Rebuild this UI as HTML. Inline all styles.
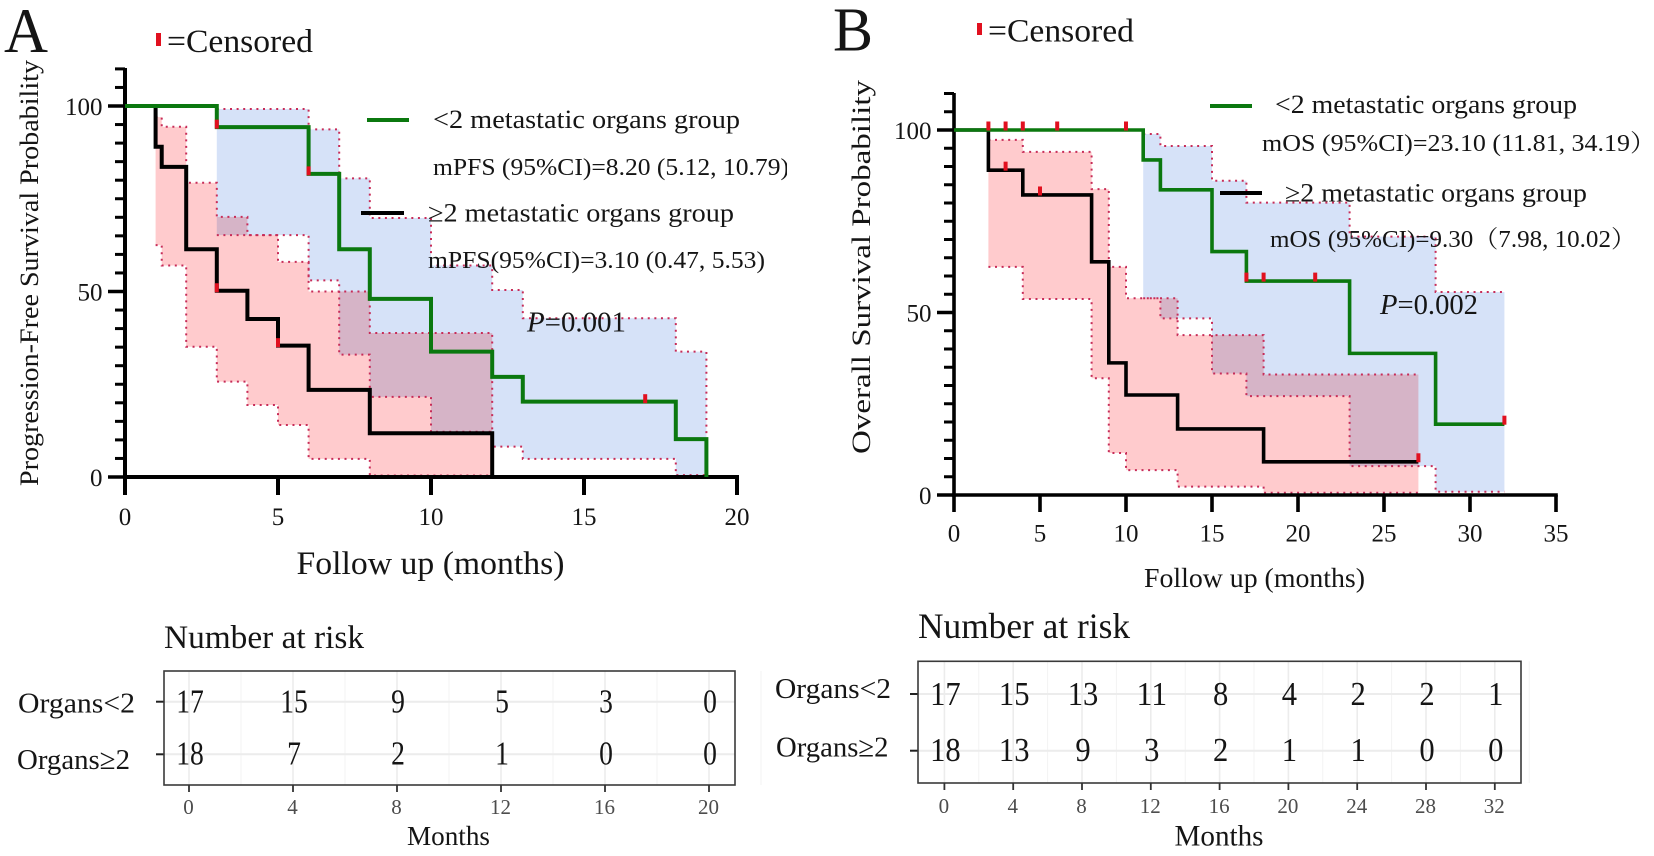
<!DOCTYPE html>
<html lang="en">
<head>
<meta charset="utf-8">
<title>Kaplan-Meier survival curves by metastatic organ count</title>
<style>
html,body{margin:0;padding:0;background:#fff;width:1654px;height:856px;overflow:hidden}
svg{display:block}
text{font-family:"Liberation Serif","Noto Serif CJK SC",serif;fill:#151515}
</style>
</head>
<body>
<svg id="figure" xmlns="http://www.w3.org/2000/svg" width="1654" height="856" viewBox="0 0 1654 856">
<rect x="0" y="0" width="1654" height="856" fill="#fff"/>
<defs><clipPath id="legendClip"><rect x="400" y="140" width="387" height="50"/></clipPath></defs>
<g id="marksA"></g>
<g id="marksB"></g>
<g id="riskA"></g>
<g id="riskB"></g>

<text x="4" y="52" font-size="64" textLength="44" lengthAdjust="spacingAndGlyphs">A</text>
<rect x="156" y="33" width="5" height="13" fill="#e1101f"/>
<text x="167" y="52" font-size="33" textLength="146" lengthAdjust="spacingAndGlyphs">=Censored</text>
<text transform="translate(38,486) rotate(-90)" font-size="26" textLength="426" lengthAdjust="spacingAndGlyphs">Progression-Free Survival Probability</text>
<text x="296.5" y="574" font-size="33" textLength="268" lengthAdjust="spacingAndGlyphs">Follow up (months)</text>
<line x1="367" y1="120" x2="409" y2="120" stroke="#0b780f" stroke-width="4"/>
<text x="433" y="128" font-size="26" textLength="307" lengthAdjust="spacingAndGlyphs">&lt;2 metastatic organs group</text>
<text x="433" y="175" font-size="24" textLength="356" lengthAdjust="spacingAndGlyphs" clip-path="url(#legendClip)">mPFS (95%CI)=8.20 (5.12, 10.79)</text>
<line x1="361" y1="213" x2="404" y2="213" stroke="#000" stroke-width="4"/>
<text x="428" y="221.5" font-size="26" textLength="306" lengthAdjust="spacingAndGlyphs">≥2 metastatic organs group</text>
<text x="428" y="268" font-size="24" textLength="337" lengthAdjust="spacingAndGlyphs">mPFS(95%CI)=3.10 (0.47, 5.53)</text>
<text x="527" y="331.5" font-size="29" textLength="99" lengthAdjust="spacingAndGlyphs"><tspan font-style="italic">P</tspan>=0.001</text>

<text x="833" y="50.5" font-size="62" textLength="40" lengthAdjust="spacingAndGlyphs">B</text>
<rect x="977" y="23" width="5" height="12" fill="#e1101f"/>
<text x="988" y="41.5" font-size="33" textLength="146" lengthAdjust="spacingAndGlyphs">=Censored</text>
<text transform="translate(870,454) rotate(-90)" font-size="26" textLength="374" lengthAdjust="spacingAndGlyphs">Overall Survival Probability</text>
<text x="1144" y="587" font-size="27" textLength="221" lengthAdjust="spacingAndGlyphs">Follow up (months)</text>
<line x1="1210" y1="106" x2="1252" y2="106" stroke="#0b780f" stroke-width="4"/>
<text x="1275" y="113" font-size="26" textLength="302" lengthAdjust="spacingAndGlyphs">&lt;2 metastatic organs group</text>
<text x="1262" y="151" font-size="24" textLength="394" lengthAdjust="spacingAndGlyphs">mOS (95%CI)=23.10 (11.81,  34.19）</text>
<line x1="1220" y1="193" x2="1262" y2="193" stroke="#000" stroke-width="4"/>
<text x="1285" y="201.5" font-size="26" textLength="302" lengthAdjust="spacingAndGlyphs">≥2 metastatic organs group</text>
<text x="1270" y="247" font-size="24" textLength="366" lengthAdjust="spacingAndGlyphs">mOS (95%CI)=9.30（7.98, 10.02）</text>
<text x="1380" y="314" font-size="29" textLength="98" lengthAdjust="spacingAndGlyphs"><tspan font-style="italic">P</tspan>=0.002</text>

<text x="164" y="648" font-size="33" textLength="200" lengthAdjust="spacingAndGlyphs">Number at risk</text>
<text x="18" y="712.5" font-size="29" textLength="117" lengthAdjust="spacingAndGlyphs">Organs&lt;2</text>
<text x="17" y="769" font-size="29" textLength="113" lengthAdjust="spacingAndGlyphs">Organs≥2</text>
<text x="407" y="845" font-size="27" textLength="83" lengthAdjust="spacingAndGlyphs">Months</text>

<text x="918" y="638" font-size="36" textLength="212" lengthAdjust="spacingAndGlyphs">Number at risk</text>
<text x="775" y="698" font-size="29" textLength="116" lengthAdjust="spacingAndGlyphs">Organs&lt;2</text>
<text x="776" y="756.5" font-size="29" textLength="112.5" lengthAdjust="spacingAndGlyphs">Organs≥2</text>
<text x="1174.5" y="845.5" font-size="30" textLength="89" lengthAdjust="spacingAndGlyphs">Months</text>
</svg>

<script>
// Panel A data
const aGreenTimes = [0, 3, 6, 7, 8, 10, 12, 13, 18, 19];
const aGreenSurv = [100, 94.3, 81.7, 61.4, 48, 33.8, 27, 20.3, 10.2, 0];
const aBlackTimes = [0, 1, 1.2, 2, 3, 4, 5, 6, 8, 12];
const aBlackSurv = [100, 89, 83.6, 61.4, 50.2, 42.6, 35.4, 23.5, 11.8, 0];
const aRedCiTimes = [1, 1.2, 2, 3, 4, 5, 6, 8, 12];
const aRedCiUpper = [97, 94.4, 79.3, 70.1, 65.2, 58, 50, 38.8, 38.8];
const aRedCiLower = [62.5, 57, 35.1, 25.7, 19.4, 14, 4.9, 0.4, 0.4];
const aBlueCiTimes = [3, 6, 7, 8, 10, 12, 13, 18, 19];
const aBlueCiUpper = [99.2, 93.7, 80.5, 69.8, 57, 50.4, 42.8, 33.8, 33.8];
const aBlueCiLower = [65.2, 53, 33, 21.6, 12.2, 8.2, 4.9, 0.5, 0.5];
const aCensorTimes = [3, 6, 17, 3, 5];
const aCensorSurv = [94.3, 81.7, 20.3, 50.2, 35.4];
const aXTicks = [0, 5, 10, 15, 20];
const aYLabels = [0, 50, 100];

// Panel B data
const bGreenTimes = [0, 11, 12, 15, 17, 23, 28, 32];
const bGreenSurv = [100, 91.8, 83.6, 66.7, 58.6, 38.8, 19.4, 19.4];
const bBlackTimes = [0, 2, 4, 8, 9, 10, 13, 18, 27];
const bBlackSurv = [100, 89, 82.2, 63.9, 36.2, 27.4, 18.1, 9.1, 9.1];
const bRedCiTimes = [2, 4, 8, 9, 10, 13, 18, 27];
const bRedCiUpper = [97.3, 94, 83.8, 62.5, 53.9, 43.8, 33, 33];
const bRedCiLower = [62.5, 53.7, 32, 11.5, 6.8, 2.3, 0.6, 0.6];
const bBlueCiTimes = [11, 12, 15, 17, 23, 28, 32];
const bBlueCiUpper = [98.9, 95.6, 86.1, 80.1, 70.8, 55.6, 55.6];
const bBlueCiLower = [53.9, 48.4, 33.3, 27.1, 7.9, 0.9, 0.9];
const bCensorTimes = [2, 3, 4, 6, 10, 17, 18, 21, 32, 3, 5, 27];
const bCensorSurv = [100, 100, 100, 100, 100, 58.6, 58.6, 58.6, 19.4, 89, 82.2, 9.1];
const bXTicks = [0, 5, 10, 15, 20, 25, 30, 35];
const bYLabels = [0, 50, 100];

// Number-at-risk data
const riskAMonths = [0, 4, 8, 12, 16, 20];
const riskALow = [17, 15, 9, 5, 3, 0];
const riskAHigh = [18, 7, 2, 1, 0, 0];
const riskBMonths = [0, 4, 8, 12, 16, 20, 24, 28, 32];
const riskBLow = [17, 15, 13, 11, 8, 4, 2, 2, 1];
const riskBHigh = [18, 13, 9, 3, 2, 1, 1, 0, 0];

const NS = 'http://www.w3.org/2000/svg';
function mk(parent, tag, attrs, txt) {
  const el = document.createElementNS(NS, tag);
  for (const k in attrs) el.setAttribute(k, attrs[k]);
  if (txt !== undefined) el.textContent = txt;
  parent.appendChild(el);
  return el;
}
function stepD(times, vals, x, y) {
  let d = 'M' + x(times[0]) + ' ' + y(vals[0]);
  for (let i = 1; i < times.length; i++) d += 'H' + x(times[i]) + 'V' + y(vals[i]);
  return d;
}
function openStepD(times, vals, x, y) {
  let d = 'M' + x(times[0]) + ' ' + y(vals[0]);
  for (let i = 1; i < times.length; i++) {
    d += 'H' + x(times[i]);
    if (i < times.length - 1) d += 'V' + y(vals[i]);
  }
  return d;
}
function bandD(times, up, lo, x, y) {
  let d = openStepD(times, up, x, y);
  for (let i = times.length - 2; i >= 0; i--) {
    d += 'V' + y(lo[i]) + 'H' + x(times[i]);
  }
  return d + 'Z';
}

function drawPanel(rootId, key, cfg) {
  const root = document.getElementById(rootId);
  const x = t => cfg.x0 + t * cfg.xs;
  const y = v => cfg.y0 - v * cfg.ys;
  const dots = { fill: 'none', stroke: '#c72c58', 'stroke-width': 2, 'stroke-dasharray': '2 4.6' };

  const blue = mk(root, 'path', { d: bandD(cfg.blueT, cfg.blueU, cfg.blueL, x, y), fill: '#d6e2f8' });
  
  
  const red = mk(root, 'path', { d: bandD(cfg.redT, cfg.redU, cfg.redL, x, y), fill: '#ffcbcd', style: 'mix-blend-mode:multiply' });
  
  

  [[cfg.blueT, cfg.blueU, cfg.blueL], [cfg.redT, cfg.redU, cfg.redL]].forEach(function (c) {
    const n = c[0].length - 1;
    let upperD = openStepD(c[0], c[1], x, y);
    if (cfg.closeRight) upperD += 'V' + y(c[2][n]);
    const up = mk(root, 'path', Object.assign({ d: upperD }, dots));
    
    
    const lo = mk(root, 'path', Object.assign({ d: openStepD(c[0], c[2], x, y) }, dots));
    
    
  });

  const axisW = cfg.axisW;
  const axisY = mk(root, 'line', { x1: x(0), y1: cfg.yTop, x2: x(0), y2: y(0) + axisW / 2, stroke: '#000', 'stroke-width': axisW });
  
  
  const axisX = mk(root, 'line', { x1: x(0) - axisW / 2, y1: y(0), x2: x(cfg.xTicks[cfg.xTicks.length - 1]) + axisW / 2, y2: y(0), stroke: '#000', 'stroke-width': axisW });
  
  

  cfg.xTicks.forEach(function (t) {
    const tick = mk(root, 'line', { x1: x(t), y1: y(0), x2: x(t), y2: y(0) + cfg.xTickLen, stroke: '#000', 'stroke-width': axisW });
    
    
    const lbl = mk(root, 'text', { x: x(t), y: cfg.xLabelY, 'font-size': 25, 'text-anchor': 'middle' }, String(t));
    
    
  });
  for (let v = 0; v <= 110; v += 5) {
    const major = cfg.yLabels.indexOf(v) >= 0;
    const tick = mk(root, 'line', { x1: x(0) - (major ? 17 : 10), y1: y(v), x2: x(0), y2: y(v), stroke: '#000', 'stroke-width': major ? 3.5 : 3 });
    
    
  }
  cfg.yLabels.forEach(function (v) {
    const lbl = mk(root, 'text', { x: x(0) - 22.5, y: y(v) + 9, 'font-size': 25, 'text-anchor': 'end' }, String(v));
    
    
  });

  const black = mk(root, 'path', { d: stepD(cfg.blackT, cfg.blackS, x, y), fill: 'none', stroke: '#000', 'stroke-width': cfg.lineW, 'stroke-linejoin': 'miter' });
  
  
  const green = mk(root, 'path', { d: stepD(cfg.greenT, cfg.greenS, x, y), fill: 'none', stroke: '#0b780f', 'stroke-width': cfg.lineW, 'stroke-linejoin': 'miter' });
  
  

  cfg.censorT.forEach(function (t, i) {
    const m = mk(root, 'rect', { x: x(t) - 2, y: y(cfg.censorS[i]) - cfg.censorUp - 4.5, width: 4, height: 9, fill: '#e1101f' });
    
    
  });
}

drawPanel('marksA', 'panel-a', {
  x0: 125, xs: 30.6, y0: 477, ys: 3.71, yTop: 68, axisW: 4, lineW: 4, xTickLen: 18, xLabelY: 525, closeRight: true, censorUp: 3,
  xTicks: aXTicks, yLabels: aYLabels,
  greenT: aGreenTimes, greenS: aGreenSurv, blackT: aBlackTimes, blackS: aBlackSurv,
  redT: aRedCiTimes, redU: aRedCiUpper, redL: aRedCiLower,
  blueT: aBlueCiTimes, blueU: aBlueCiUpper, blueL: aBlueCiLower,
  censorT: aCensorTimes, censorS: aCensorSurv
});
drawPanel('marksB', 'panel-b', {
  x0: 954, xs: 17.2, y0: 495, ys: 3.65, yTop: 93, axisW: 3.6, lineW: 3.6, xTickLen: 17, xLabelY: 541.5, closeRight: false, censorUp: 4,
  xTicks: bXTicks, yLabels: bYLabels,
  greenT: bGreenTimes, greenS: bGreenSurv, blackT: bBlackTimes, blackS: bBlackSurv,
  redT: bRedCiTimes, redU: bRedCiUpper, redL: bRedCiLower,
  blueT: bBlueCiTimes, blueU: bBlueCiUpper, blueL: bBlueCiLower,
  censorT: bCensorTimes, censorS: bCensorSurv
});

function drawRisk(rootId, key, cfg) {
  const root = document.getElementById(rootId);
  const x = m => cfg.x0 + m * cfg.xs;
  const last = cfg.months[cfg.months.length - 1];
  const step = cfg.months[1] - cfg.months[0];
  for (let m = 0; m <= last + step / 2; m += step / 2) {
    const major = cfg.months.indexOf(m) >= 0;
    const g = mk(root, 'line', { x1: x(m), y1: cfg.top, x2: x(m), y2: cfg.bottom, stroke: major ? '#ececec' : '#f3f3f3', 'stroke-width': major ? 1.6 : 1 });
    
    
  }
  cfg.rows.forEach(function (ry) {
    const g = mk(root, 'line', { x1: cfg.left, y1: ry, x2: cfg.right, y2: ry, stroke: '#ececec', 'stroke-width': 2 });
    
    
    const t = mk(root, 'line', { x1: cfg.left - 8, y1: ry, x2: cfg.left, y2: ry, stroke: '#222', 'stroke-width': 2 });
    
    
  });
  const box = mk(root, 'rect', { x: cfg.left, y: cfg.top, width: cfg.right - cfg.left, height: cfg.bottom - cfg.top, fill: 'none', stroke: '#3a3a3a', 'stroke-width': 1.6 });
  
  
  cfg.months.forEach(function (m, i) {
    const t = mk(root, 'line', { x1: x(m), y1: cfg.bottom, x2: x(m), y2: cfg.bottom + 7, stroke: '#333', 'stroke-width': 1.8 });
    
    
    const l = mk(root, 'text', { x: x(m) - 0.5, y: cfg.labelY, 'font-size': 21, 'text-anchor': 'middle', style: 'fill:#4d4d4d' }, String(m));
    
    
    [cfg.low[i], cfg.high[i]].forEach(function (val, r) {
      const s = String(val);
      const n = mk(root, 'text', { x: x(m) - s.length * cfg.digitW / 2 + 1, y: cfg.base[r], 'font-size': cfg.numSize, textLength: s.length * cfg.digitW, lengthAdjust: 'spacingAndGlyphs' }, s);
      
      
    });
  });
}

drawRisk('riskA', 'panel-a-risk', {
  x0: 189, xs: 26, left: 164, right: 735, top: 671, bottom: 785, labelY: 814, numSize: 34, digitW: 13.8,
  rows: [701.7, 754.3], base: [712.5, 764.5], months: riskAMonths, low: riskALow, high: riskAHigh
});
drawRisk('riskB', 'panel-b-risk', {
  x0: 944.4, xs: 17.2, left: 918, right: 1521, top: 661.3, bottom: 783, labelY: 813, numSize: 34, digitW: 15.3,
  rows: [694, 750.7], base: [705, 761], months: riskBMonths, low: riskBLow, high: riskBHigh
});
</script>
</body>
</html>
